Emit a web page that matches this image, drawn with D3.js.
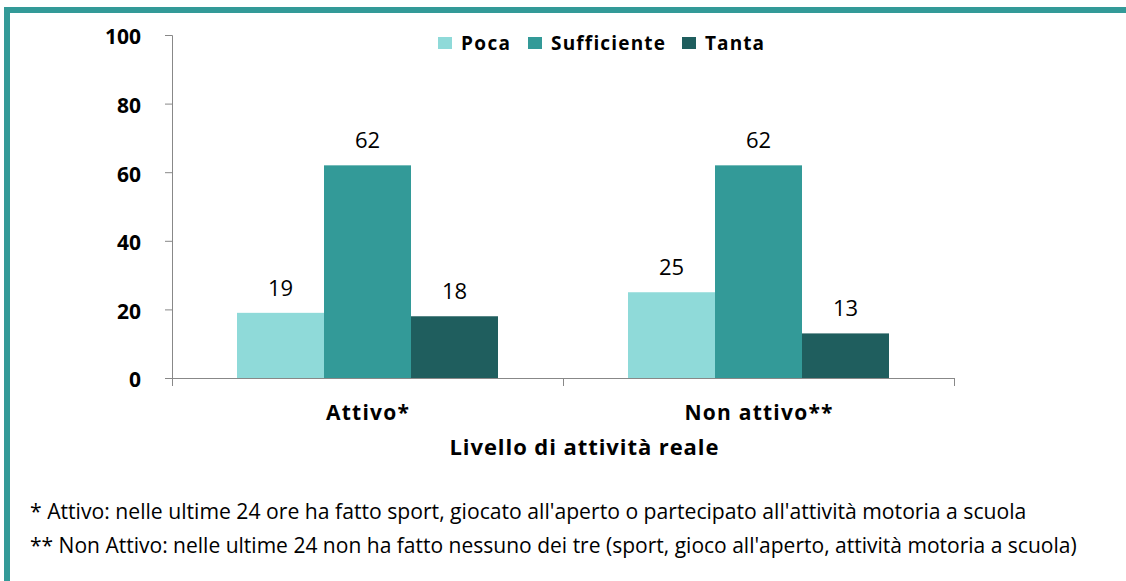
<!DOCTYPE html>
<html><head><meta charset="utf-8">
<script src="https://cdn.jsdelivr.net/npm/d3@7"></script>
<style>body{margin:0;background:#fff}svg{display:block}text{font-family:"Open Sans","Noto Sans",sans-serif}</style>
</head><body>
<svg id="c" width="1126" height="581"></svg>
<script>
const categories = ["Attivo*", "Non attivo**"];
const series = ["Poca", "Sufficiente", "Tanta"];
const poca = [19, 25];
const sufficiente = [62, 62];
const tanta = [18, 13];
const yTicks = [0, 20, 40, 60, 80, 100];
const colors = ["#8fdad9", "#339a98", "#1f5e5e"];
const axisTitle = "Livello di attività reale";
const notes = [
  "* Attivo: nelle ultime 24 ore ha fatto sport, giocato all'aperto o partecipato all'attività motoria a scuola",
  "** Non Attivo: nelle ultime 24 non ha fatto nessuno dei tre (sport, gioco all'aperto, attività motoria a scuola)"
];

const svg = d3.select("#c");
// frame
svg.append("rect").attr("x", 7).attr("y", 10).attr("width", 1130).attr("height", 600)
  .attr("fill", "none").attr("stroke", "#339a98").attr("stroke-width", 6);

const x0 = d3.scaleBand().domain(categories).range([172, 954]);
const x1 = d3.scaleBand().domain(series).range([0, 261]);
const y = d3.scaleLinear().domain([0, 100]).range([378, 35]);
const values = [poca, sufficiente, tanta];

function fit(sel, target) {
  const w = sel.node().getComputedTextLength();
  const fs = parseFloat(sel.attr("font-size"));
  sel.attr("font-size", fs * target / w);
}
// match width by letter spacing (keeps glyph height)
function fitLS(sel, target) {
  const n = sel.node();
  const w = n.getComputedTextLength();
  const len = n.textContent.length;
  const ls = (target - w) / Math.max(1, len - 1);
  sel.attr("letter-spacing", ls);
  const anchor = sel.attr("text-anchor");
  const shift = anchor === "middle" ? ls / 2 : anchor === "end" ? ls : 0;
  sel.attr("dx", shift);
}

// y axis
const ya = svg.append("g").attr("transform", "translate(172,0)")
  .call(d3.axisLeft(y).tickValues(yTicks).tickSize(7).tickPadding(24));
ya.select(".domain").attr("stroke", "#888").attr("d", "M-7,35.5H0.5V378.5");
ya.selectAll(".tick line").attr("stroke", "#888");
ya.selectAll(".tick text").attr("font-size", 21).attr("font-weight", "bold").attr("fill", "#000")
  .attr("font-family", "'Open Sans',sans-serif").attr("dy", "0.42em");

// x axis
const xa = svg.append("g").attr("transform", "translate(0,378)");
xa.append("line").attr("x1", 172).attr("x2", 954).attr("y1", 0.5).attr("y2", 0.5).attr("stroke", "#888");
[172, 563, 954].forEach(v => xa.append("line").attr("x1", v + 0.5).attr("x2", v + 0.5).attr("y1", 0).attr("y2", 8).attr("stroke", "#888"));
const catW = [83, 148];
categories.forEach((c, i) => {
  const t = xa.append("text").attr("x", x0(c) + x0.bandwidth() / 2).attr("y", 42)
    .attr("text-anchor", "middle").attr("font-size", 21).attr("font-weight", "bold").text(c);
  fitLS(t, catW[i]);
});

// bars
const gBand = (x0.bandwidth() - 261) / 2;
series.forEach((s, si) => {
  categories.forEach((c, ci) => {
    const v = values[si][ci];
    const bx = x0(c) + gBand + x1(s);
    svg.append("rect").attr("x", bx).attr("y", y(v)).attr("width", x1.bandwidth()).attr("height", y(0) - y(v))
      .attr("fill", colors[si]);
    svg.append("text").attr("x", bx + x1.bandwidth() / 2).attr("y", y(v) - 17)
      .attr("text-anchor", "middle").attr("font-size", 22).attr("fill", "#000").text(v);
  });
});

// legend
const legX = [438, 528, 682];
const legW = [49, 114, 59];
series.forEach((s, i) => {
  svg.append("rect").attr("x", legX[i]).attr("y", 37).attr("width", 14).attr("height", 12).attr("fill", colors[i]);
  const t = svg.append("text").attr("x", legX[i] + 23).attr("y", 50).attr("font-size", 19).attr("font-weight", "bold").text(s);
  fitLS(t, legW[i]);
});

// axis title
const t = svg.append("text").attr("x", 584).attr("y", 455).attr("text-anchor", "middle")
  .attr("font-size", 22).attr("font-weight", "bold").text(axisTitle);
fitLS(t, 269);

// notes
const n1 = svg.append("text").attr("x", 30).attr("y", 519).attr("font-size", 17).text(notes[0]);
fit(n1, 997);
const n2 = svg.append("text").attr("x", 30).attr("y", 553).attr("font-size", 17).text(notes[1]);
fit(n2, 1047);
</script>
</body></html>
